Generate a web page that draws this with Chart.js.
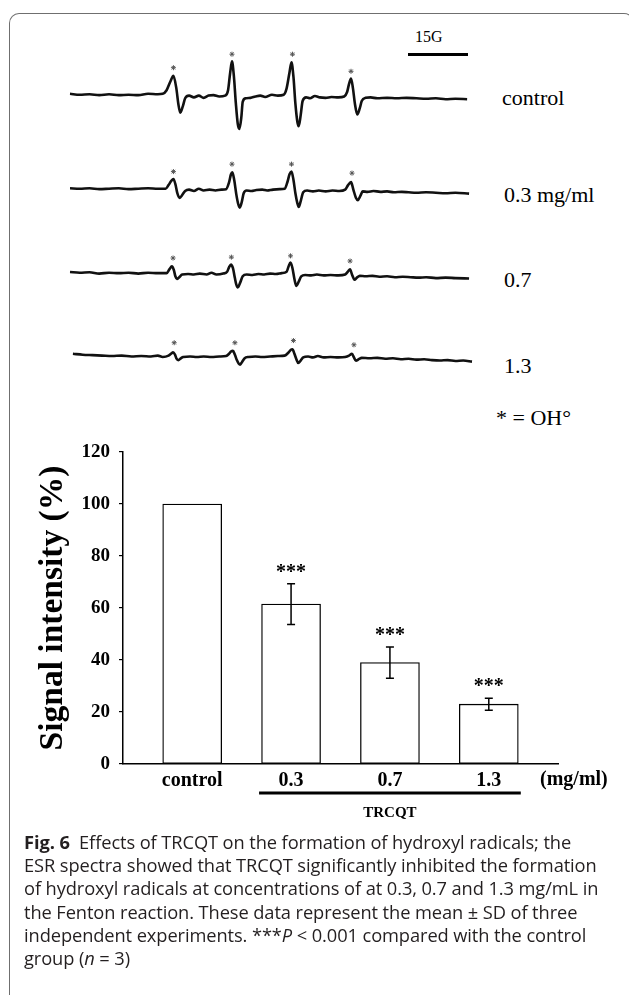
<!DOCTYPE html>
<html><head><meta charset="utf-8">
<script src="https://cdn.jsdelivr.net/npm/chart.js@4.4.1/dist/chart.umd.min.js"></script>
<style>
html,body{margin:0;padding:0;background:#fff;}
body{width:629px;height:995px;position:relative;overflow:hidden;}
.frame{position:absolute;left:9px;top:13px;width:625px;height:1100px;border:1.5px solid #6f6f6f;border-bottom:none;border-radius:10px 10px 0 0;box-sizing:border-box;}
.lab{position:absolute;font-family:'Liberation Serif',serif;font-size:22px;line-height:1;color:#000;white-space:nowrap;}
canvas{position:absolute;}
.cap{position:absolute;left:24px;top:830px;font-family:'Open Sans',sans-serif;font-size:18.3px;line-height:23.2px;color:#231f20;white-space:nowrap;letter-spacing:-0.1px;}
</style></head>
<body>
<div class="frame"></div>

<div class="lab" style="left:415px;top:28.5px;font-size:16px;">15G</div>
<div style="position:absolute;left:408px;top:52.5px;width:60px;height:3px;background:#000;"></div>

<canvas id="s0" width="412" height="100" style="left:65px;top:42px"></canvas>
<canvas id="s1" width="412" height="100" style="left:65px;top:136px"></canvas>
<canvas id="s2" width="412" height="100" style="left:65px;top:220px"></canvas>
<canvas id="s3" width="412" height="100" style="left:65px;top:302px"></canvas>

<div class="lab" style="left:502px;top:86.6px;">control</div>
<div class="lab" style="left:504px;top:183.6px;">0.3 mg/ml</div>
<div class="lab" style="left:504px;top:268.6px;">0.7</div>
<div class="lab" style="left:504px;top:354.6px;">1.3</div>
<div class="lab" style="left:496px;top:406.6px;">* = OH°</div>

<canvas id="bar" width="629" height="400" style="left:0;top:430px"></canvas>

<div class="cap">
<div><b>Fig. 6</b>&nbsp; Effects of TRCQT on the formation of hydroxyl radicals; the</div>
<div>ESR spectra showed that TRCQT significantly inhibited the formation</div>
<div>of hydroxyl radicals at concentrations of at 0.3, 0.7 and 1.3 mg/mL in</div>
<div>the Fenton reaction. These data represent the mean ± SD of three</div>
<div>independent experiments. ***<i>P</i> &lt; 0.001 compared with the control</div>
<div>group (<i>n</i> = 3)</div>
</div>

<script>
// ===== ESR spectra (field in G, amplitude in a.u.) =====
const ctlX=[0,2.5,5,7.5,10,12.5,15,17.5,20,22.5,23.75,24.75,25.75,26.5,27.25,27.75,28.25,28.9,29.5,30.5,31.75,33,34.25,35.5,36.75,38.25,39.75,40.5,41,41.5,42,42.5,43,43.4,43.9,44.25,45,46.25,47.5,48.75,50,51.75,53.25,54.75,55.5,56.25,56.75,57.25,57.75,58.25,58.6,59.1,59.6,60.5,61.5,62.75,64,65.5,67,68.75,70.25,71,71.5,72,72.5,73,73.6,74.25,74.75,75.75,77,78.75,81.25,83.75,86.25,88.75,91.25,93.75,96.25,98.75,101.75];
const ctlY=[3,2,2.5,1.5,2.5,1.5,2,1.5,3,2.5,3,7,17,23,9,-8,-18,-11,-2,1,-1,1,-1.5,1,1.5,0,1,7,25,39,22,-8,-31,-36,-23,-6,-2,-1.5,0,1,-0.5,2,1,2,9,27,38,22,-8,-28,-33,-21,-5,-1,-2,0.5,-1,-1.5,-0.5,-1,0,5,14,20,9,-8,-20,-13,-5,-1.5,-1,-2,-1.5,-2,-1.5,-2,-2.5,-2,-3,-2.5,-3];
const c03X=[0,2.5,5,7.5,10,12.5,15,17.5,20,22.5,24.5,25.25,26,26.5,27,27.5,28.1,28.75,29.5,30.5,31.75,33,34.25,35.75,37.25,38.75,40,40.75,41.25,41.6,42.1,42.6,43.1,43.5,44,44.5,45.25,46.5,47.75,49.25,50.5,52,53.75,55,55.75,56.25,56.75,57.25,57.75,58.25,58.6,59.1,59.75,60.75,62.25,63.75,65.5,67.25,69,70.5,71.25,72,72.6,73.25,73.75,74.4,75,76.25,77.75,79.5,81.25,83,85,86.75,88.75,91.25,93.75,96.25,98.75,102.25];
const c03Y=[2.5,2,2.5,1.5,2,2.5,1.5,2,2.5,2,2,6,11,12.7,7,-3,-8.3,-5,-0.5,1,-0.5,2,0,1,0,1,1.5,9,18,20.3,11,-4,-15,-19,-13,-3,0,-0.5,0.5,1,0,1,1.5,2,10,18,21,12,-3,-14,-18.3,-12,-2,0,-1,0,-1,0,-0.5,1,6,9.3,1,-8,-10.7,-6,-1,-1.5,-0.5,-1.5,-1,-2,-1.5,-2,-2.5,-2,-2.5,-3,-2.5,-3.5];
const c07X=[0,2.5,5,7.5,10,12.5,15,17.5,20,22.5,24.75,25.5,26.1,26.6,27,27.4,28,28.75,30.25,31.75,33.25,35,36.25,37.5,39.25,40.25,40.75,41.25,41.75,42.25,42.6,43,43.6,44.25,45.25,46.75,48.25,49.75,51.25,52.75,54.25,55.5,56,56.5,57,57.5,58,58.6,59.25,60.25,61.75,63.25,65,66.75,68.75,70.5,71.25,71.75,72.25,72.9,73.5,74.25,75.75,77.5,79.25,81.25,83.25,85.25,87.25,89.25,91.25,93.75,96.25,98.75,102.25];
const c07Y=[2.7,2,2.5,1,2,1.5,2,1,2,1.5,1.5,6,9,5,-2,-5,-3,0,0.5,0,1,0,2,0,1,3,8,11,7,-4,-11,-14.3,-9,-2,0,-0.5,0.5,0,1,0.5,1.5,3,9,13.3,7,-5,-12.7,-8,-2,-0.5,-1,0,-1,-0.5,-1,0,3.5,5.7,0,-5.7,-3.5,-1.5,-2,-1.5,-2.5,-2,-3,-2.5,-3,-3.5,-3,-4,-3.5,-4,-4.5];
const c13X=[0.75,3.25,5.75,8.25,10.75,13.25,15.75,18.25,20.75,22.5,23.75,25.25,26,26.4,26.9,27.25,27.75,28.4,29,30.75,32.5,34.25,36.25,38.25,40,40.75,41.25,41.75,42.25,42.75,43.25,43.6,44.1,44.75,45.75,47.5,49.25,51.25,53.25,55,56,56.6,57,57.5,58,58.5,59.1,59.75,61,62.25,63.5,65,66.75,68.75,70.5,71.5,72.25,72.75,73.25,74,74.75,76.75,78.75,80.75,82.75,84.75,86.75,88.75,90.75,92.75,94.75,96.75,98.75,100.75,103];
const c13Y=[3,2,1.5,1,0.5,1,0,0.5,0,1,-0.5,1,3.5,4.7,2,-2,-4,-2,-0.5,0,-0.5,0,-0.5,0,0.5,3,5.5,6.3,2,-4,-8,-9,-6,-2,-0.5,0,-0.5,0,0.5,1,4.5,7.5,8,3,-3,-7.3,-4.5,-1,0,-1,0.5,-1,-0.5,-1,-0.5,1,3,-1,-4.7,-3,-1.5,-2,-1.5,-2.5,-2,-3,-2.5,-3.5,-3,-4,-4.5,-4,-5,-4.5,-5.7];
// OH° adduct markers (*) above each line
const ctlStarX=[26.5,41.5,57,72],   ctlStarY=[32,47,47,28];
const c03StarX=[26.5,41.5,56.75,72.25], c03StarY=[21,29.3,29.3,19.3];
const c07StarX=[26.4,41.35,56.5,71.75], c07StarY=[18.3,19.3,20.7,15];
const c13StarX=[26.7,42.25,57.25,72.75], c13StarY=[15.3,15.3,17.7,13];

// ===== Bar chart =====
const categories=['control','0.3','0.7','1.3'];
const means=[100,61.5,39,23];
const sds=[0,7.8,6,2.3];
const marks=['','***','***','***'];
const yTicks=[0,20,40,60,80,100,120];
const unitLabel='(mg/ml)';
const groupLabel='TRCQT';
const yTitle='Signal intensity (%)';

function spectrum(id,xs,ys,sx,sy){
  new Chart(document.getElementById(id),{
    type:'line',
    data:{datasets:[
      {data:xs.map((x,i)=>({x:x,y:ys[i]})),borderColor:'#111',borderWidth:2.6,pointRadius:0,cubicInterpolationMode:'monotone',fill:false,clip:false},
      {type:'scatter',data:sx.map((x,i)=>({x:x,y:sy[i]})),pointStyle:'star',pointRadius:2.5,borderColor:'#555',backgroundColor:'#555',borderWidth:1,clip:false}
    ]},
    options:{responsive:false,animation:false,events:[],layout:{padding:0},
      plugins:{legend:{display:false},tooltip:{enabled:false}},
      scales:{x:{type:'linear',min:0,max:103,display:false},y:{min:-45,max:55,display:false}}}
  });
}
spectrum('s0',ctlX,ctlY,ctlStarX,ctlStarY);
spectrum('s1',c03X,c03Y,c03StarX,c03StarY);
spectrum('s2',c07X,c07Y,c07StarX,c07StarY);
spectrum('s3',c13X,c13Y,c13StarX,c13StarY);

const extras={id:'extras',afterDatasetsDraw(chart){
  const ctx=chart.ctx,x=chart.scales.x,y=chart.scales.y;
  ctx.save();
  ctx.strokeStyle='#000';ctx.lineWidth=1.5;
  means.forEach((m,i)=>{
    if(!sds[i])return;
    const px=x.getPixelForValue(i),t=y.getPixelForValue(m+sds[i]),b=y.getPixelForValue(m-sds[i]);
    ctx.beginPath();ctx.moveTo(px,t);ctx.lineTo(px,b);
    ctx.moveTo(px-4,t);ctx.lineTo(px+4,t);ctx.moveTo(px-4,b);ctx.lineTo(px+4,b);ctx.stroke();
  });
  ctx.fillStyle='#000';ctx.font='bold 20px "Liberation Serif"';ctx.textAlign='center';ctx.textBaseline='alphabetic';
  marks.forEach((s,i)=>{if(!s)return;ctx.fillText(s,x.getPixelForValue(i),y.getPixelForValue(means[i]+sds[i])-6);});
  ctx.textAlign='left';ctx.textBaseline='middle';
  ctx.fillText(unitLabel,x.right-18,x.top+16);
  const x1=x.getPixelForValue(1)-32,x2=x.getPixelForValue(3)+32;
  ctx.lineWidth=3;ctx.beginPath();ctx.moveTo(x1,x.top+29);ctx.lineTo(x2,x.top+29);ctx.stroke();
  ctx.font='bold 15px "Liberation Serif"';ctx.textAlign='center';
  ctx.fillText(groupLabel,(x1+x2)/2,x.top+49);
  ctx.restore();
}};

new Chart(document.getElementById('bar'),{
  type:'bar',
  data:{datasets:[{data:means.map((v,i)=>({x:i,y:v})),backgroundColor:'#fff',borderColor:'#000',borderWidth:1.3,borderSkipped:false,barThickness:59}]},
  options:{responsive:false,animation:false,events:[],
    layout:{padding:{top:22,right:71,left:0,bottom:0}},
    plugins:{legend:{display:false},tooltip:{enabled:false}},
    scales:{
      x:{type:'linear',min:-0.7,max:3.7,offset:false,
        afterBuildTicks:s=>{s.ticks=categories.map((c,i)=>({value:i}));},
        afterFit:s=>{s.height=66;},
        grid:{display:false,drawTicks:false,offset:false},
        border:{display:true,color:'#000',width:1.5},
        ticks:{callback:v=>categories[v],font:{family:'Liberation Serif',weight:'bold',size:20},color:'#000',padding:5,maxRotation:0,autoSkip:false}},
      y:{min:0,max:120,
        afterBuildTicks:s=>{s.ticks=yTicks.map(v=>({value:v}));},
        afterFit:s=>{s.width=123;},
        grid:{display:true,drawOnChartArea:false,drawTicks:true,tickLength:4,color:'#000',lineWidth:1.2},
        border:{display:true,color:'#000',width:1.5},
        ticks:{font:{family:'Liberation Serif',weight:'bold',size:19},color:'#000',padding:9},
        title:{display:true,text:yTitle,font:{family:'Liberation Serif',weight:'bold',size:33.5},color:'#000',padding:{top:33,bottom:0}}}
    }},
  plugins:[extras]
});
</script>
</body></html>
